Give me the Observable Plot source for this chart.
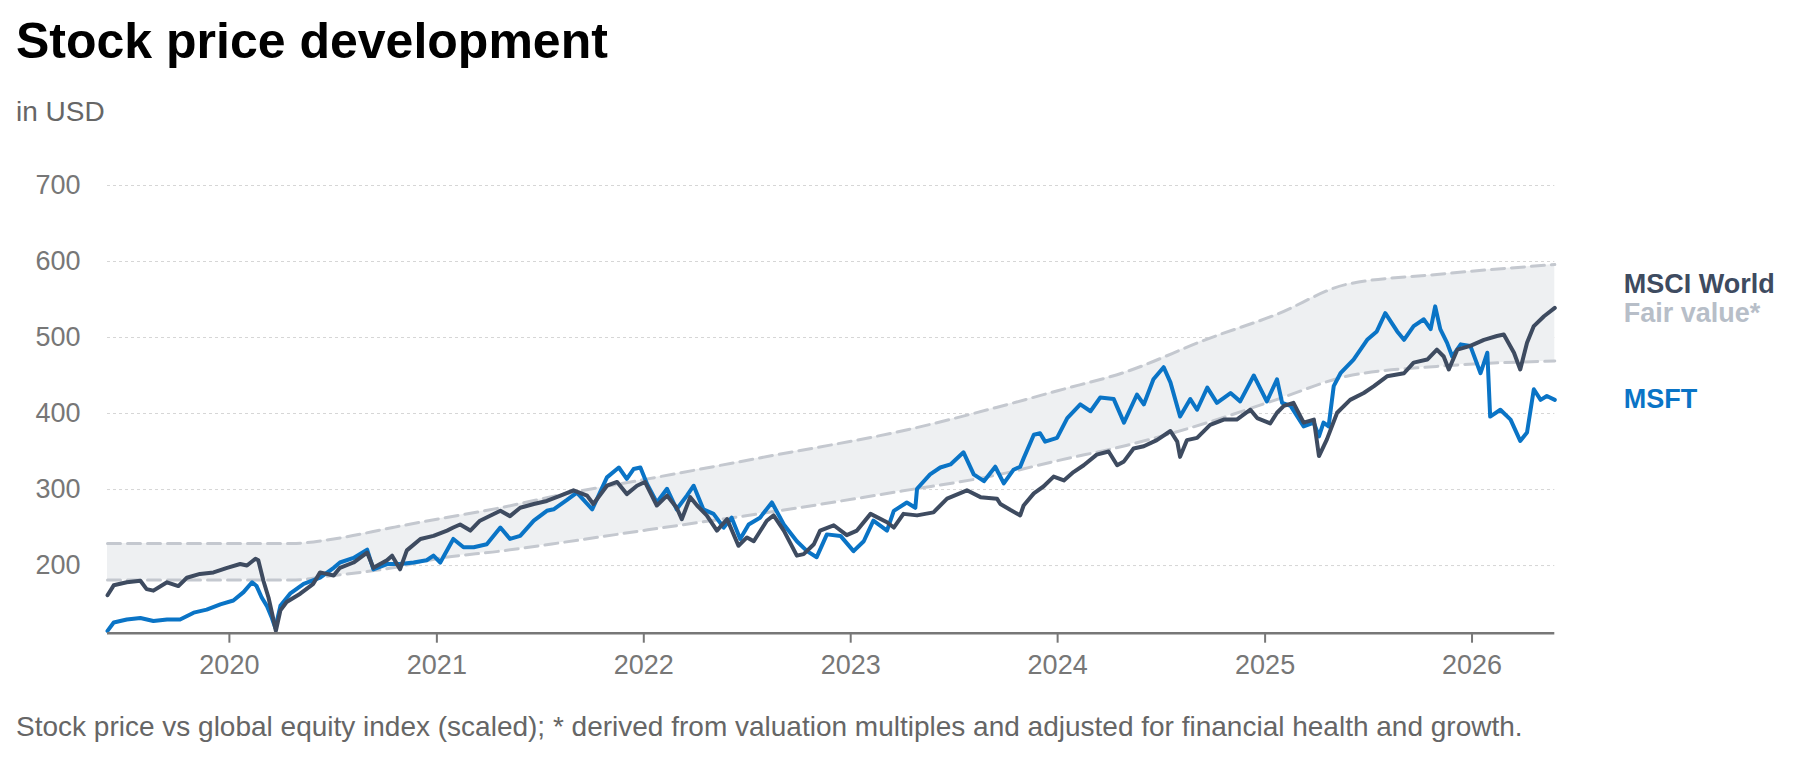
<!DOCTYPE html>
<html>
<head>
<meta charset="utf-8">
<script src="https://cdn.jsdelivr.net/npm/d3@7"></script>
<script src="https://cdn.jsdelivr.net/npm/@observablehq/plot@0.6"></script>
<style>
  body { margin: 0; background: #fff; }
  #wrap { position: relative; width: 1804px; height: 762px; font-family: "Liberation Sans", Arial, Helvetica, sans-serif; }
  #title { position: absolute; left: 16px; top: 16px; font-size: 50px; line-height: 50px; font-weight: bold; color: #000; white-space: nowrap; }
  #sub { position: absolute; left: 16px; top: 98px; font-size: 28px; line-height: 28px; color: #666; white-space: nowrap; }
  #chart { position: absolute; left: 0; top: 140px; }
  #chart svg { display: block; }
  #cap { position: absolute; left: 16px; top: 713px; font-size: 28px; line-height: 28px; color: #666; white-space: nowrap; }
</style>
</head>
<body>
<div id="wrap">
  <div id="title">Stock price development</div>
  <div id="sub">in USD</div>
  <div id="chart"></div>
  <div id="cap">Stock price vs global equity index (scaled); * derived from valuation multiples and adjusted for financial health and growth.</div>
</div>
<script>
// ---- data ----
const xStart = "2019-05-31";
const xEnd = "2026-05-27";
const yMin = 111;
const yMax = 700;
const yTicks = [200, 300, 400, 500, 600, 700];
const xTickYears = [2020, 2021, 2022, 2023, 2024, 2025, 2026];

const msciDates = ["2019-05-31","2019-06-11","2019-07-04","2019-07-28","2019-08-08","2019-08-20","2019-09-13","2019-10-03","2019-10-18","2019-11-10","2019-12-04","2019-12-28","2020-01-20","2020-02-01","2020-02-16","2020-02-21","2020-03-01","2020-03-10","2020-03-19","2020-03-23","2020-03-31","2020-04-11","2020-05-05","2020-05-28","2020-06-09","2020-07-03","2020-07-14","2020-08-07","2020-08-31","2020-09-11","2020-10-05","2020-10-14","2020-10-28","2020-11-09","2020-12-03","2020-12-26","2021-01-19","2021-01-30","2021-02-11","2021-03-01","2021-03-18","2021-04-23","2021-05-10","2021-05-28","2021-06-21","2021-07-14","2021-08-07","2021-08-30","2021-09-23","2021-10-04","2021-10-28","2021-11-15","2021-12-02","2021-12-20","2022-01-03","2022-01-24","2022-02-11","2022-02-28","2022-03-09","2022-03-24","2022-04-05","2022-04-22","2022-05-10","2022-05-28","2022-06-17","2022-07-02","2022-07-14","2022-08-06","2022-08-18","2022-09-05","2022-09-28","2022-10-10","2022-10-28","2022-11-08","2022-12-02","2022-12-25","2023-01-12","2023-02-05","2023-03-06","2023-03-18","2023-04-04","2023-04-28","2023-05-27","2023-06-20","2023-07-25","2023-08-18","2023-09-16","2023-09-22","2023-10-10","2023-10-27","2023-11-02","2023-11-20","2023-12-07","2023-12-25","2024-01-12","2024-01-29","2024-02-16","2024-03-10","2024-03-31","2024-04-15","2024-04-27","2024-05-14","2024-06-01","2024-06-24","2024-07-18","2024-07-30","2024-08-04","2024-08-16","2024-09-03","2024-09-26","2024-10-20","2024-11-12","2024-12-06","2024-12-18","2025-01-10","2025-01-22","2025-02-03","2025-02-20","2025-03-10","2025-03-28","2025-04-06","2025-04-20","2025-05-08","2025-05-31","2025-06-24","2025-07-12","2025-08-04","2025-09-03","2025-09-20","2025-10-14","2025-10-31","2025-11-12","2025-11-21","2025-12-06","2025-12-29","2026-01-22","2026-02-14","2026-02-26","2026-03-16","2026-03-27","2026-04-08","2026-04-20","2026-05-08","2026-05-27"];
const msciValues = [161,174,178,180,169,167,178,173,184,189,191,197,202,200,209,207,180,158,128,114,141,152,163,176,191,187,197,204,217,197,207,213,195,220,235,239,246,250,254,246,259,272,265,276,281,285,292,299,292,281,305,310,294,305,310,279,292,276,261,290,279,266,246,261,226,237,232,259,266,246,213,215,228,246,253,240,246,268,257,250,268,266,270,288,299,290,288,281,273,266,279,295,304,317,312,323,332,346,350,332,337,354,357,365,377,363,343,365,368,385,392,392,405,394,387,401,410,414,388,392,344,366,401,418,427,436,449,453,467,471,484,475,458,484,489,497,502,504,480,458,493,515,528,539];

const msftDates = ["2019-05-31","2019-06-11","2019-07-04","2019-07-28","2019-08-20","2019-09-13","2019-10-06","2019-10-30","2019-11-22","2019-12-16","2020-01-08","2020-01-26","2020-02-10","2020-02-18","2020-02-27","2020-03-07","2020-03-16","2020-03-22","2020-03-31","2020-04-17","2020-05-11","2020-06-09","2020-07-03","2020-07-14","2020-08-07","2020-08-31","2020-09-11","2020-10-05","2020-10-28","2020-11-21","2020-12-14","2020-12-26","2021-01-07","2021-01-30","2021-02-17","2021-03-07","2021-03-30","2021-04-23","2021-05-10","2021-05-28","2021-06-21","2021-07-14","2021-07-26","2021-08-18","2021-09-05","2021-10-02","2021-10-28","2021-11-18","2021-12-02","2021-12-14","2021-12-26","2022-01-07","2022-01-24","2022-02-11","2022-02-28","2022-03-18","2022-03-30","2022-04-16","2022-05-04","2022-05-22","2022-06-05","2022-06-20","2022-07-05","2022-07-25","2022-08-15","2022-09-05","2022-09-28","2022-10-16","2022-11-02","2022-11-20","2022-12-14","2023-01-06","2023-01-24","2023-02-10","2023-03-06","2023-03-18","2023-04-10","2023-04-25","2023-04-28","2023-05-21","2023-06-08","2023-06-26","2023-07-19","2023-08-06","2023-08-24","2023-09-13","2023-09-28","2023-10-15","2023-10-27","2023-11-02","2023-11-20","2023-12-01","2023-12-10","2023-12-31","2024-01-18","2024-02-10","2024-02-28","2024-03-16","2024-04-09","2024-04-27","2024-05-20","2024-06-01","2024-06-18","2024-07-06","2024-07-18","2024-08-04","2024-08-22","2024-09-03","2024-09-21","2024-10-08","2024-11-01","2024-11-18","2024-12-12","2025-01-04","2025-01-22","2025-01-31","2025-02-15","2025-03-10","2025-03-28","2025-04-06","2025-04-14","2025-04-23","2025-05-02","2025-05-14","2025-06-06","2025-06-30","2025-07-17","2025-08-01","2025-08-22","2025-09-03","2025-09-20","2025-10-08","2025-10-20","2025-10-28","2025-11-06","2025-11-18","2025-11-27","2025-12-12","2025-12-29","2026-01-16","2026-01-28","2026-02-02","2026-02-20","2026-03-10","2026-03-27","2026-04-08","2026-04-20","2026-05-02","2026-05-13","2026-05-27"];
const msftValues = [114,125,129,131,127,129,129,138,142,149,154,165,178,173,158,147,131,118,147,163,176,184,197,204,210,221,195,202,202,204,207,213,204,235,224,224,228,250,235,239,259,272,274,286,296,274,316,329,314,327,329,307,283,301,274,292,305,274,268,250,263,235,254,263,283,254,232,219,211,241,239,219,232,259,246,272,283,276,301,320,329,333,349,320,311,330,308,326,330,341,372,374,363,368,394,412,403,421,419,388,425,412,445,461,441,396,419,405,434,414,427,416,450,416,445,414,410,383,388,370,388,383,436,453,471,497,508,532,508,497,515,524,511,541,511,493,475,491,489,453,480,396,405,392,364,375,432,418,423,418];

const fairDates = ["2019-05-31","2020-04-20","2020-07-03","2020-10-15","2021-01-01","2021-04-23","2021-08-07","2022-01-08","2022-08-18","2023-04-01","2023-09-15","2024-01-01","2024-05-01","2024-09-21","2025-01-20","2025-05-25","2025-10-31","2026-05-27"];
const fairLow  = [181,181,187,197,209,219,230,247,271,298,319,338,358,388,418,449,462,469];
const fairHigh = [229,229,235,250,261,276,293,314,345,377,408,430,455,498,530,570,583,596];

const seriesNames = ["MSCI World", "Fair value*", "MSFT"];

// ---- styles ----
const FONT = '"Liberation Sans", Arial, Helvetica, sans-serif';
const colors = { msci: "#3e4b60", fair: "#b7bec8", msft: "#0a74c6", band: "#eef0f2", dash: "#c4c8cf", axis: "#777777", grid: "#d6d6d6" };
const labelDy = { "MSCI World": -24, "Fair value*": 1, "MSFT": 0 };

// ---- tables ----
const parse = s => new Date(s + "T00:00:00Z");
const msci = msciDates.map((d, i) => ({ date: parse(d), value: msciValues[i] }));
const msft = msftDates.map((d, i) => ({ date: parse(d), value: msftValues[i] }));
const band = fairDates.map((d, i) => ({ date: parse(d), low: fairLow[i], high: fairHigh[i] }));
const xTicks = xTickYears.map(y => new Date(Date.UTC(y, 0, 1)));

const lastMsci = msci[msci.length - 1];
const lastMsft = msft[msft.length - 1];
const lastBand = band[band.length - 1];
const labels = [
  { name: seriesNames[0], date: lastMsci.date, value: lastMsci.value, color: colors.msci },
  { name: seriesNames[1], date: lastBand.date, value: (lastBand.low + lastBand.high) / 2, color: colors.fair },
  { name: seriesNames[2], date: lastMsft.date, value: lastMsft.value, color: colors.msft }
];

const chart = Plot.plot({
  width: 1804,
  height: 560,
  marginTop: 45,
  marginBottom: 67.3,
  marginLeft: 107,
  marginRight: 249.7,
  style: { fontFamily: FONT, fontSize: "27px", color: colors.axis, background: "transparent", overflow: "visible" },
  x: { type: "utc", domain: [parse(xStart), parse(xEnd)] },
  y: { domain: [yMin, yMax] },
  marks: [
    Plot.ruleY(yTicks, { stroke: colors.grid, strokeWidth: 1, strokeDasharray: "3,3" }),
    Plot.areaY(band, { x: "date", y1: "low", y2: "high", fill: colors.band, curve: "monotone-x" }),
    Plot.lineY(band, { x: "date", y: "low", stroke: colors.dash, strokeWidth: 3, strokeDasharray: "13,7", curve: "monotone-x" }),
    Plot.lineY(band, { x: "date", y: "high", stroke: colors.dash, strokeWidth: 3, strokeDasharray: "13,7", curve: "monotone-x" }),
    Plot.lineY(msft, { x: "date", y: "value", stroke: colors.msft, strokeWidth: 4, strokeLinejoin: "round" }),
    Plot.lineY(msci, { x: "date", y: "value", stroke: colors.msci, strokeWidth: 4, strokeLinejoin: "round" }),
    Plot.ruleY([yMin], { stroke: colors.axis, strokeWidth: 2.5 }),
    Plot.axisY({ ticks: yTicks, tickSize: 0, tickPadding: 27, label: null, fontSize: 27 }),
    Plot.axisX({ ticks: xTicks, tickFormat: d3.utcFormat("%Y"), tickSize: 10, tickPadding: 12, label: null, stroke: colors.axis, strokeWidth: 2, fontSize: 27 }),
    ...labels.map(l => Plot.text([l], {
      x: "date", y: "value", text: "name", fill: l.color, dx: 69, dy: labelDy[l.name],
      textAnchor: "start", fontWeight: "bold", fontSize: 27
    }))
  ]
});
document.getElementById("chart").appendChild(chart);
</script>
</body>
</html>
